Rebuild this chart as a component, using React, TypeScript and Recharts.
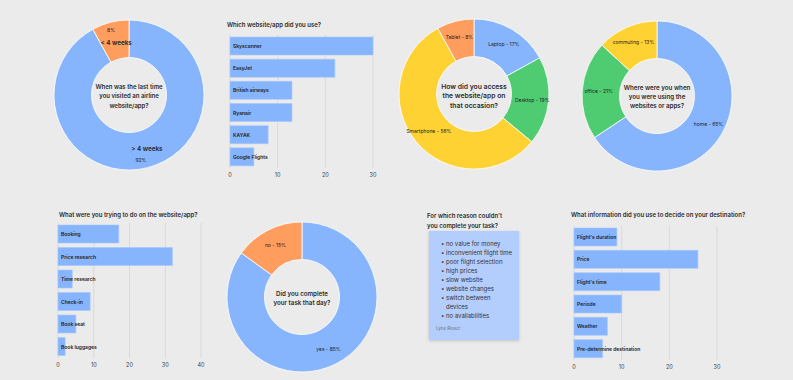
import React from "react";
import {
  BarChart,
  Bar,
  XAxis,
  YAxis,
  CartesianGrid,
  LabelList,
  PieChart,
  Pie,
  Cell,
} from "recharts";

const visitNames = ["> 4 weeks", "< 4 weeks"];
const visitShares = [92, 8];

const siteNames = ["Skyscanner", "EasyJet", "British airways", "Ryanair", "KAYAK", "Google Flights"];
const siteCounts = [30, 22, 13, 13, 8, 5];

const deviceNames = ["Laptop", "Desktop", "Smartphone", "Tablet"];
const deviceShares = [17, 19, 56, 8];

const placeNames = ["home", "office", "commuting"];
const placeShares = [65, 21, 13];

const taskNames = ["Booking", "Price research", "Time research", "Check-in", "Book seat", "Book luggages"];
const taskCounts = [17, 32, 4, 9, 5, 2];

const doneNames = ["yes", "no"];
const doneShares = [85, 15];

const reasons = [
  "no value for money",
  "inconvenient flight time",
  "poor flight selection",
  "high prices",
  "slow website",
  "website changes",
  "switch between\ndevices",
  "no availabilities",
];

const infoNames = ["Flight's duration", "Price", "Flight's time", "Periode", "Weather", "Pre-determine destination"];
const infoCounts = [9, 26, 18, 10, 7, 6];

const BG = "#ebebeb";
const BLUE = "#86b5fd";
const ORANGE = "#ff9d5e";
const GREEN = "#4fcb71";
const YELLOW = "#ffd233";
const INK = "#2b2b2b";
const RAD = Math.PI / 180;

const zip = (names: string[], values: number[]) =>
  names.map((name, i) => ({ name, value: values[i] }));

const Text = ({ x, y, size, weight = 600, children, color = INK }: any) => (
  <div
    style={{
      position: "absolute",
      left: x,
      top: y,
      transform: "translateY(-50%)",
      fontSize: size,
      fontWeight: weight,
      color,
      whiteSpace: "nowrap",
      lineHeight: 1.2,
    }}
  >
    {children}
  </div>
);

const CenterText = ({ x, y, size, lines }: any) => (
  <div
    style={{
      position: "absolute",
      left: x,
      top: y,
      transform: "translate(-50%, -50%)",
      fontSize: size,
      fontWeight: 600,
      color: INK,
      textAlign: "center",
      lineHeight: "9.3px",
      whiteSpace: "pre",
    }}
  >
    {lines.join("\n")}
  </div>
);

const plainLabel = (p: any) => {
  const r = p.outerRadius * 0.78;
  const x = p.cx + r * Math.cos(-p.midAngle * RAD);
  const y = p.cy + r * Math.sin(-p.midAngle * RAD);
  return (
    <text x={x} y={y} textAnchor="middle" dominantBaseline="central" fontSize={5} fill="#222">
      {`${p.name} - ${p.value}%`}
    </text>
  );
};

const visitLabel = (p: any) => {
  const r = p.outerRadius * 0.8;
  const x = p.cx + r * Math.cos(-p.midAngle * RAD);
  const y = p.cy + r * Math.sin(-p.midAngle * RAD);
  if (p.index === 1) {
    return (
      <g>
        <text x={x - 3} y={y - 7} textAnchor="middle" dominantBaseline="central" fontSize={5} fill="#222">
          {`${p.value}%`}
        </text>
        <text x={x + 2} y={y + 6} textAnchor="middle" dominantBaseline="central" fontSize={6.3} fontWeight={600} fill="#222">
          {p.name}
        </text>
      </g>
    );
  }
  return (
    <g>
      <text x={x + 3} y={y - 4} textAnchor="middle" dominantBaseline="central" fontSize={6.3} fontWeight={600} fill="#222">
        {p.name}
      </text>
      <text x={x - 3} y={y + 7} textAnchor="middle" dominantBaseline="central" fontSize={5} fill="#222">
        {`${p.value}%`}
      </text>
    </g>
  );
};

const barName = (p: any) => {
  const vb = p.viewBox || p;
  return (
    <text
      x={vb.x + 3}
      y={vb.y + vb.height / 2}
      dominantBaseline="central"
      fontSize={5}
      fontWeight={600}
      fill="#222"
    >
      {p.value}
    </text>
  );
};

const Donut = ({ data, colors, cx, cy, r, label }: any) => {
  const size = 2 * r + 10;
  return (
    <div style={{ position: "absolute", left: cx - size / 2, top: cy - size / 2 }}>
      <PieChart width={size} height={size} margin={{ top: 0, right: 0, bottom: 0, left: 0 }}>
        <Pie
          data={data}
          dataKey="value"
          nameKey="name"
          cx="50%"
          cy="50%"
          innerRadius={r * 0.5}
          outerRadius={r}
          startAngle={90}
          endAngle={-270}
          stroke="#fff"
          strokeWidth={0.8}
          label={label}
          labelLine={false}
          isAnimationActive={false}
        >
          {data.map((d: any, i: number) => (
            <Cell key={d.name} fill={colors[i]} />
          ))}
        </Pie>
      </PieChart>
    </div>
  );
};

const HBar = ({ data, max, ticks, left, top, plotW, plotH }: any) => (
  <div style={{ position: "absolute", left: left - 8, top }}>
    <BarChart
      width={plotW + 16}
      height={plotH + 16}
      data={data}
      layout="vertical"
      margin={{ top: 2, right: 8, bottom: 0, left: 8 }}
      barSize={18}
    >
      <CartesianGrid horizontal={false} stroke="#d4d4d4" strokeWidth={0.8} />
      <XAxis
        type="number"
        domain={[0, max]}
        ticks={ticks}
        interval={0}
        axisLine={false}
        tickLine={false}
        tickSize={0}
        tickMargin={5}
        height={14}
        tick={{ fontSize: 5.5, fill: "#444" }}
      />
      <YAxis type="category" dataKey="name" width={0} tick={false} tickLine={false} axisLine={{ stroke: "#6a6a6a" }} />
      <Bar dataKey="value" fill={BLUE} stroke="#a5c8ff" strokeWidth={0.6} isAnimationActive={false}>
        <LabelList dataKey="name" content={barName} />
      </Bar>
    </BarChart>
  </div>
);

export default function App() {
  return (
    <div
      style={{
        position: "absolute",
        left: 0,
        top: 0,
        width: 793,
        height: 380,
        background: BG,
        fontFamily: "Inter, 'Noto Sans', sans-serif",
        overflow: "hidden",
      }}
    >
      {/* top row */}
      <Donut data={zip(visitNames, visitShares)} colors={[BLUE, ORANGE]} cx={129} cy={95} r={75} label={visitLabel} />
      <CenterText x={129} y={96} size={6} lines={["When was the last time", "you visited an airline", "website/app?"]} />

      <Text x={227} y={25} size={6}>Which website/app did you use?</Text>
      <HBar data={zip(siteNames, siteCounts)} max={30} ticks={[0, 10, 20, 30]} left={230} top={33} plotW={143} plotH={133} />

      <Donut data={zip(deviceNames, deviceShares)} colors={[BLUE, GREEN, YELLOW, ORANGE]} cx={474} cy={94} r={75} label={plainLabel} />
      <CenterText x={474} y={96} size={6.8} lines={["How did you access", "the website/app on", "that occasion?"]} />

      <Donut data={zip(placeNames, placeShares)} colors={[BLUE, GREEN, YELLOW]} cx={657} cy={95.5} r={75} label={plainLabel} />
      <CenterText x={657} y={96.7} size={6.2} lines={["Where were you when", "you were using the", "websites or apps?"]} />

      {/* bottom row */}
      <Text x={59} y={215} size={6}>What were you trying to do on the website/app?</Text>
      <HBar data={zip(taskNames, taskCounts)} max={40} ticks={[0, 10, 20, 30, 40]} left={58} top={221} plotW={143} plotH={135} />

      <Donut data={zip(doneNames, doneShares)} colors={[BLUE, ORANGE]} cx={302} cy={297} r={75} label={plainLabel} />
      <CenterText x={302} y={298} size={6.2} lines={["Did you complete", "your task that day?"]} />

      <Text x={427} y={216} size={6}>For which reason couldn't</Text>
      <Text x={427} y={225.5} size={6}>you complete your task?</Text>
      <div
        style={{
          position: "absolute",
          left: 429,
          top: 231,
          width: 90,
          height: 109,
          background: "#b3cdfd",
          boxShadow: "0 1px 3px rgba(0,0,0,0.18)",
        }}
      >
        <div style={{ position: "absolute", left: 12, top: 7.5, fontSize: 6, lineHeight: "9.1px", color: "#333" }}>
          {reasons.map((r) => (
            <div key={r} style={{ position: "relative", paddingLeft: 5, whiteSpace: "pre" }}>
              <span style={{ position: "absolute", left: 0 }}>•</span>
              {r}
            </div>
          ))}
        </div>
        <div style={{ position: "absolute", left: 7, top: 95, fontSize: 4.5, color: "#6b7280" }}>Lyne Revez</div>
      </div>

      <Text x={571} y={215} size={6}>What information did you use to decide on your destination?</Text>
      <HBar data={zip(infoNames, infoCounts)} max={30} ticks={[0, 10, 20, 30]} left={574} top={224} plotW={143} plotH={134} />
    </div>
  );
}
